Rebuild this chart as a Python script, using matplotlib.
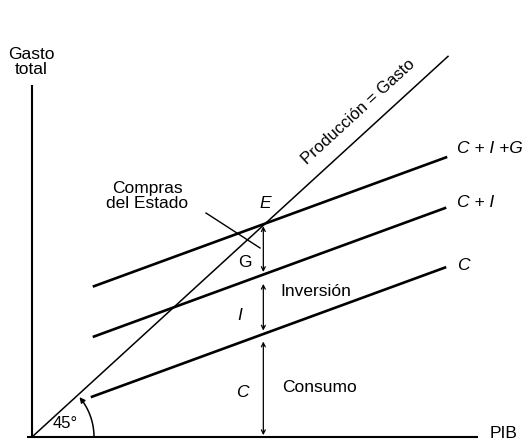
import numpy as np
import matplotlib
matplotlib.use("Agg")
import matplotlib.pyplot as plt

plt.rcParams['font.family'] = ['Liberation Sans', 'DejaVu Sans']

# --- model values (data units: PIB on x, Gasto on y) ---
consumo_autonomo = 20.0     # intercept of C
propension = 0.40           # slope of C, C+I, C+I+G
inversion = 65.0            # I
gasto_publico = 55.0        # G
x_45 = [0.0, 416.0]         # extent of 45-degree line
x_lineas = [60.0, 413.0]    # extent of spending lines
etiquetas_lineas = ["C", "C + I", "C + I +G"]
texto_ejes = ["Gasto\ntotal", "PIB"]

# pixel aspect: 1 data unit in y = 0.915 px
ky = 0.915
W, H = 523, 445
ox, oy = 32, 437  # origin in pixels

fig = plt.figure(figsize=(W / 100, H / 100), dpi=100)
ax = fig.add_axes([0, 0, 1, 1])
ax.set_xlim(-ox, W - ox)
ax.set_ylim((oy - H) / ky, oy / ky)
ax.axis('off')

# axes
ax.plot([0, 0], [0, (oy - 85) / ky], color='black', lw=1.5, solid_capstyle='butt')
ax.plot([-5, 446], [0, 0], color='black', lw=1.5, solid_capstyle='butt')

# 45 degree line
ax.plot(x_45, x_45, color='black', lw=1.1)

# spending lines
interceptos = [consumo_autonomo,
               consumo_autonomo + inversion,
               consumo_autonomo + inversion + gasto_publico]
xs = np.array(x_lineas)
for i, b in enumerate(interceptos):
    x0 = xs[0] + (2 if i > 0 else 0)
    xx = np.array([x0, xs[1] + (1 if i == 2 else 0)])
    ax.plot(xx, b + propension * xx, color='black', lw=1.9)

# equilibrium
xE = interceptos[2] / (1 - propension)
yE = xE
yCI = interceptos[1] + propension * xE
yC = interceptos[0] + propension * xE
xv = xE - 2
segs = [(yE - 3, yCI + 2), (yCI - 11, yC + 3), (yC - 9, 2)]
for top, bot in segs:
    ax.annotate('', xy=(xv, top), xytext=(xv, bot),
                arrowprops=dict(arrowstyle='<->', lw=0.9, color='black',
                                mutation_scale=7, shrinkA=0, shrinkB=0))

# labels on right
ax.text(425, interceptos[2] + propension * 414 + 10, etiquetas_lineas[2],
        style='italic', fontsize=12.5, ha='left', va='center')
ax.text(425, interceptos[1] + propension * 413 + 6, etiquetas_lineas[1],
        style='italic', fontsize=12.5, ha='left', va='center')
ax.text(425, interceptos[0] + propension * 413 + 2, etiquetas_lineas[0],
        style='italic', fontsize=12.5, ha='left', va='center')

# text labels
ax.text(-1, 409.8, texto_ejes[0], fontsize=12.5, ha='center', va='center',
        linespacing=1.0)
ax.text(472, 3.3, texto_ejes[1], fontsize=12.5, ha='center', va='center')
ax.text(326, 355.2, "Producción = Gasto", fontsize=12, ha='center', va='center',
        rotation=42.5, rotation_mode='anchor')
ax.text(115, 263.4, "Compras\ndel Estado", fontsize=12.5, ha='center',
        va='center', linespacing=1.0)
ax.plot([174, 228], [244.8, 206.6], color='black', lw=1.0)
ax.text(xE, 255.7, "E", style='italic', fontsize=12.5, ha='center', va='center')
ax.text(213, 190.2, "G", fontsize=12.5, ha='center', va='center')
ax.text(208, 133.3, "I", style='italic', fontsize=12.5, ha='center', va='center')
ax.text(210, 48.1, "C", style='italic', fontsize=12.5, ha='center', va='center')
ax.text(248, 158.5, "Inversión", fontsize=12.5, ha='left', va='center')
ax.text(250, 54.6, "Consumo", fontsize=12.5, ha='left', va='center')

# 45 degree arc with arrow
r = 62
t = np.linspace(0, np.radians(37), 50)
ax.plot(r * np.cos(t), r * np.sin(t) / ky, color='black', lw=1.1)
t_end = np.radians(40)
ax.annotate('', xy=(r * np.cos(t_end), r * np.sin(t_end) / ky),
            xytext=(r * np.cos(t[-1]), r * np.sin(t[-1]) / ky),
            arrowprops=dict(arrowstyle='-|>', lw=1.0, color='black',
                            mutation_scale=8, shrinkA=0, shrinkB=0))
ax.text(33, 15.3, "45°", fontsize=12, ha='center', va='center')

fig.savefig("out.png", dpi=100, facecolor='white')
